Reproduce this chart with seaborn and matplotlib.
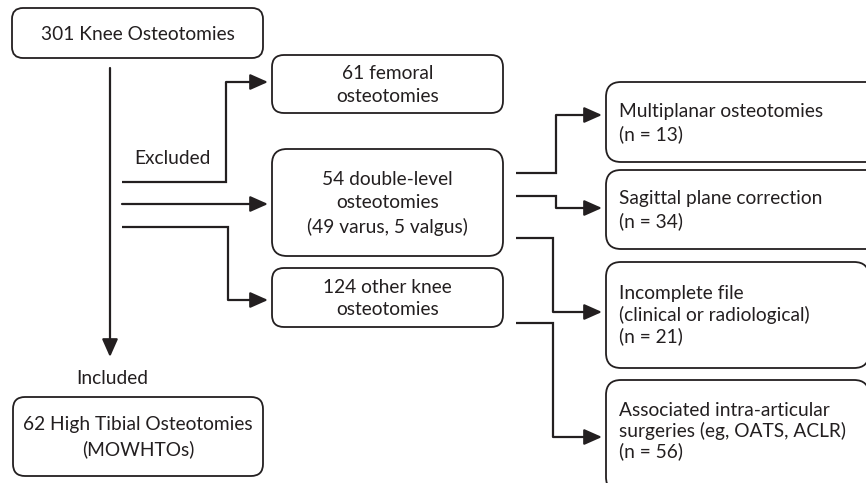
import matplotlib
matplotlib.use("Agg")
import matplotlib.pyplot as plt
from matplotlib.patches import FancyBboxPatch
import seaborn as sns

# box texts of the flow chart
start_label = "301 Knee Osteotomies"
excluded_labels = ["61 femoral\nosteotomies",
                   "54 double-level\nosteotomies\n(49 varus, 5 valgus)",
                   "124 other knee\nosteotomies"]
reason_labels = ["Multiplanar osteotomies\n(n = 13)",
                 "Sagittal plane correction\n(n = 34)",
                 "Incomplete file\n(clinical or radiological)\n(n = 21)",
                 "Associated intra-articular\nsurgeries (eg, OATS, ACLR)\n(n = 56)"]
final_label = "62 High Tibial Osteotomies\n(MOWHTOs)"
branch_labels = ["Excluded", "Included"]

sns.set_theme(style="white")
plt.rcParams['font.family'] = ['Lato', 'DejaVu Sans']

ink = "#231f20"
fs = 13.8

fig = plt.figure(figsize=(8.66, 4.83), dpi=100)
ax = fig.add_axes([0, 0, 1, 1])
ax.set_xlim(0, 866)
ax.set_ylim(483, 0)
ax.axis("off")


def box(x, y, w, h, r=11):
    p = FancyBboxPatch((x, y), w, h, boxstyle=f"round,pad=0,rounding_size={r}",
                       fc="white", ec=ink, lw=1.3, mutation_aspect=1)
    ax.add_patch(p)


def connector(pts):
    xs = [p[0] for p in pts]
    ys = [p[1] for p in pts]
    ax.plot(xs[:-1], ys[:-1], color=ink, lw=1.6, solid_capstyle="butt",
            solid_joinstyle="miter")
    ax.annotate("", xy=pts[-1], xytext=pts[-2],
                arrowprops=dict(arrowstyle="-|>,head_length=0.9,head_width=0.4",
                                color=ink, lw=1.6, shrinkA=0, shrinkB=0,
                                mutation_scale=12))


# left column
box(12, 8, 251, 50, 11)
ax.text(138, 34, start_label, ha="center", va="center", fontsize=fs, color=ink)
box(13, 397, 250, 79, 12)
ax.text(138, 437, final_label, ha="center", va="center", fontsize=fs, color=ink,
        linespacing=1.45)
ax.text(172, 159, branch_labels[0], ha="center", va="center", fontsize=fs, color=ink)
ax.text(112, 378, branch_labels[1], ha="center", va="center", fontsize=fs, color=ink)

# excluded boxes
ex_boxes = [(272, 55, 231, 58), (272, 149, 231, 107), (272, 268, 231, 59)]
for (x, y, w, h), lab in zip(ex_boxes, excluded_labels):
    box(x, y, w, h, 12 if h < 80 else 15)
    ax.text(x + w / 2, y + h / 2 + 1, lab, ha="center", va="center", fontsize=fs,
            color=ink, linespacing=1.42)

# reason boxes (clipped at right edge)
rs_boxes = [(606, 82, 275, 80), (606, 170, 275, 79), (606, 262, 263, 106),
            (606, 380, 263, 112)]
for (x, y, w, h), lab in zip(rs_boxes, reason_labels):
    box(x, y, w, h, 15)
rs_text_y = [123, 210, 315, 431]
rs_spacing = [1.35, 1.3, 1.22, 1.2]
for ty, ls, lab in zip(rs_text_y, rs_spacing, reason_labels):
    ax.text(619, ty, lab, ha="left", va="center", fontsize=fs, color=ink,
            linespacing=ls)

# connectors
connector([(110, 68), (110, 357)])
connector([(122, 182), (226, 182), (226, 82), (268, 82)])
connector([(122, 204), (268, 204)])
connector([(122, 227), (228, 227), (228, 300), (268, 300)])
connector([(516, 173), (556, 173), (556, 115), (602, 115)])
connector([(516, 196), (556, 196), (556, 208), (602, 208)])
connector([(516, 238), (553, 238), (553, 312), (602, 312)])
connector([(516, 323), (553, 323), (553, 437), (602, 437)])

fig.savefig("out.png", dpi=100, facecolor="white")
